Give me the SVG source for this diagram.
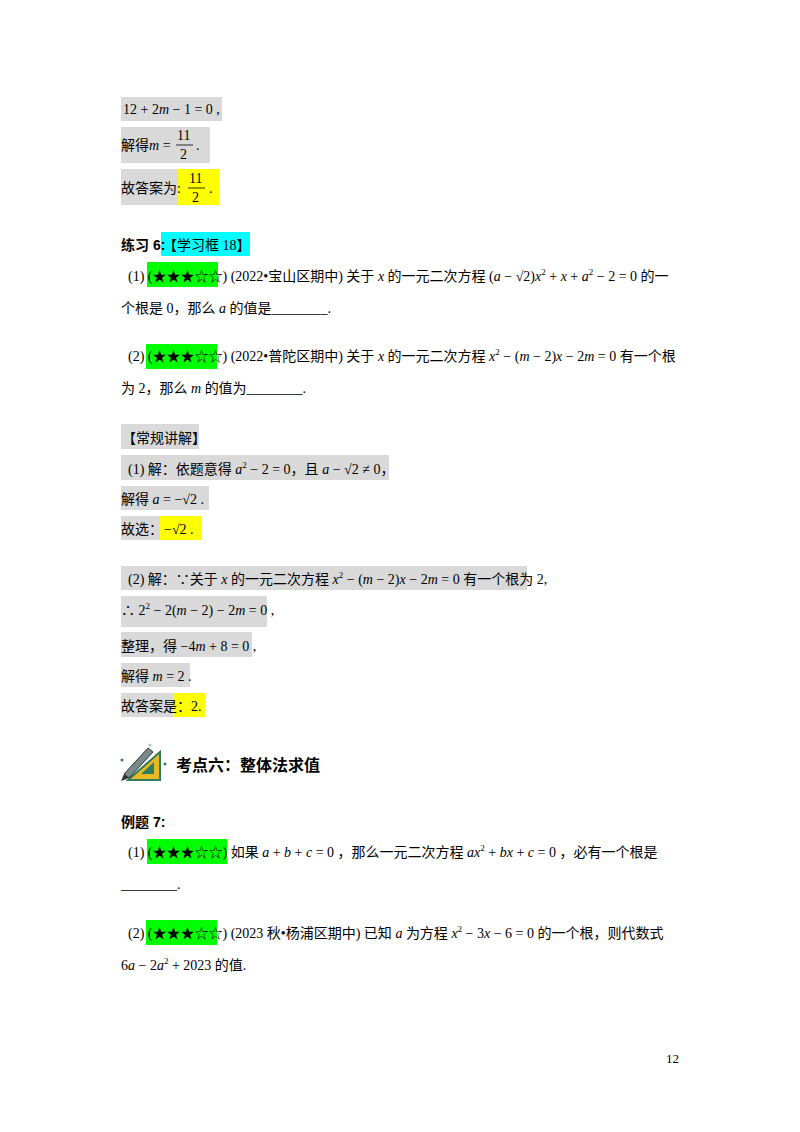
<svg xmlns="http://www.w3.org/2000/svg" width="800" height="1132" viewBox="0 0 800 1132">
<style>
text{font-family:"Liberation Serif","Noto Sans CJK SC",serif;font-size:14px;fill:#000}
.i{font-style:italic}
.b{font-weight:bold;font-family:"Liberation Sans","Noto Sans CJK SC",sans-serif}
.g{fill:#d9d9d9}.y{fill:#ffff00}.gr{fill:#00ff00}.c{fill:#00ffff}
.s{font-size:9px}
</style>
<rect width="800" height="1132" fill="#fff"/>
<g id="top">
<rect class="g" x="121" y="97" width="101" height="24"/>
<text x="123" y="114">12 + 2<tspan class="i">m</tspan> − 1 = 0 ,</text>
<rect class="g" x="121" y="127" width="89" height="36"/>
<text x="121" y="150">解得<tspan class="i">m</tspan> =</text>
<text x="177" y="140">11</text><line x1="176" y1="145" x2="193" y2="145" stroke="#000" stroke-width="0.8"/><text x="180" y="159">2</text><text x="196" y="150">.</text>
<rect class="g" x="121" y="169" width="57" height="36"/>
<rect class="y" x="178" y="169" width="41" height="36"/>
<text x="121" y="193">故答案为:</text>
<text x="189" y="183">11</text><line x1="188" y1="188" x2="205" y2="188" stroke="#000" stroke-width="0.8"/><text x="192" y="202">2</text><text x="209" y="193">.</text>
</g>
<g id="ex6">
<rect class="c" x="161" y="232" width="89" height="24"/>
<text class="b" x="121" y="250">练习 6:</text>
<text x="163" y="250">【学习框 18】</text>
<rect class="gr" x="147" y="262" width="71" height="25"/>
<text x="128" y="281">(1) (★★★☆☆) (2022•宝山区期中) 关于 <tspan class="i">x</tspan> 的一元二次方程 (<tspan class="i">a</tspan> − √2)<tspan class="i">x</tspan><tspan class="s" dy="-6">2</tspan><tspan dy="6"> + </tspan><tspan class="i">x</tspan> + <tspan class="i">a</tspan><tspan class="s" dy="-6">2</tspan><tspan dy="6"> − 2 = 0 的一</tspan></text>
<text x="121" y="313">个根是 0，那么 <tspan class="i">a</tspan> 的值是________.</text>
<rect class="gr" x="146" y="344" width="71" height="25"/>
<text x="128" y="361">(2) (★★★☆☆) (2022•普陀区期中) 关于 <tspan class="i">x</tspan> 的一元二次方程 <tspan class="i">x</tspan><tspan class="s" dy="-6">2</tspan><tspan dy="6"> − (</tspan><tspan class="i">m</tspan> − 2)<tspan class="i">x</tspan> − 2<tspan class="i">m</tspan> = 0 有一个根</text>
<text x="121" y="393">为 2，那么 <tspan class="i">m</tspan> 的值为________.</text>
</g>
<g id="solution">
<rect class="g" x="121" y="424" width="78" height="25"/>
<text x="122" y="443">【常规讲解】</text>
<rect class="g" x="121" y="455" width="268" height="25"/>
<text x="128" y="474">(1) 解：依题意得 <tspan class="i">a</tspan><tspan class="s" dy="-6">2</tspan><tspan dy="6"> − 2 = 0，且 </tspan><tspan class="i">a</tspan> − √2 ≠ 0，</text>
<rect class="g" x="121" y="486" width="88" height="24"/>
<text x="121" y="504">解得 <tspan class="i">a</tspan> = −√2 .</text>
<rect class="g" x="121" y="516" width="39" height="24"/>
<rect class="y" x="160" y="516" width="42" height="24"/>
<text x="121" y="534">故选：</text><text x="164" y="534">−√2 .</text>
<rect class="g" x="121" y="566" width="406" height="24"/>
<text x="128" y="584">(2) 解：∵关于 <tspan class="i">x</tspan> 的一元二次方程 <tspan class="i">x</tspan><tspan class="s" dy="-6">2</tspan><tspan dy="6"> − (</tspan><tspan class="i">m</tspan> − 2)<tspan class="i">x</tspan> − 2<tspan class="i">m</tspan> = 0 有一个根为 2,</text>
<rect class="g" x="121" y="596" width="146" height="31"/>
<text x="121" y="615">∴ 2<tspan class="s" dy="-6">2</tspan><tspan dy="6"> − 2(</tspan><tspan class="i">m</tspan> − 2) − 2<tspan class="i">m</tspan> = 0 ,</text>
<rect class="g" x="121" y="632" width="131" height="25"/>
<text x="121" y="651">整理，得 −4<tspan class="i">m</tspan> + 8 = 0 ,</text>
<rect class="g" x="121" y="663" width="69" height="24"/>
<text x="121" y="681">解得 <tspan class="i">m</tspan> = 2 .</text>
<rect class="g" x="121" y="693" width="52" height="24"/>
<rect class="y" x="173" y="693" width="32" height="24"/>
<text x="121" y="711">故答案是：2.</text>
</g>
<g id="icon">
<polygon points="128,780 160,752 160,780" fill="#e8b923" stroke="#2f7d5b" stroke-width="2"/>
<polygon points="141,774 154,762 154,774" fill="#2f7d5b"/>
<polygon points="124,774 148,748 153,752 129,778" fill="#7a8a8a" stroke="#333" stroke-width="1"/>
<polygon points="124,774 129,778 121,781" fill="#333"/>
<circle cx="122" cy="760" r="1.5" fill="#2f7d5b"/><circle cx="165" cy="764" r="1.5" fill="#2f7d5b"/><circle cx="150" cy="745" r="1.5" fill="#9cc"/>
</g>
<g id="section">
<text class="b" x="176" y="771" style="font-size:16px">考点六：整体法求值</text>
<text class="b" x="121" y="827">例题 7:</text>
<rect class="gr" x="147" y="839" width="80" height="25"/>
<text x="128" y="857">(1) (★★★☆☆) 如果 <tspan class="i">a</tspan> + <tspan class="i">b</tspan> + <tspan class="i">c</tspan> = 0 ，那么一元二次方程 <tspan class="i">ax</tspan><tspan class="s" dy="-6">2</tspan><tspan dy="6"> + </tspan><tspan class="i">bx</tspan> + <tspan class="i">c</tspan> = 0 ，必有一个根是</text>
<text x="121" y="889">________.</text>
<rect class="gr" x="146" y="920" width="71" height="25"/>
<text x="128" y="938">(2) (★★★☆☆) (2023 秋•杨浦区期中) 已知 <tspan class="i">a</tspan> 为方程 <tspan class="i">x</tspan><tspan class="s" dy="-6">2</tspan><tspan dy="6"> − 3</tspan><tspan class="i">x</tspan> − 6 = 0 的一个根，则代数式</text>
<text x="121" y="970">6<tspan class="i">a</tspan> − 2<tspan class="i">a</tspan><tspan class="s" dy="-6">2</tspan><tspan dy="6"> + 2023 的值.</tspan></text>
<text x="666" y="1063" style="font-size:13px">12</text>
</g>
</svg>
